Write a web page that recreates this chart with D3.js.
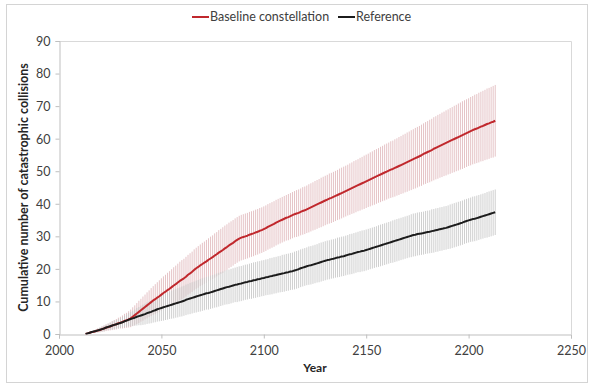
<!DOCTYPE html>
<html>
<head>
<meta charset="utf-8">
<script src="https://cdn.jsdelivr.net/npm/d3@7/dist/d3.min.js"></script>
<style>
  html, body { margin: 0; padding: 0; background: #ffffff; }
  svg { display: block; font-family: Lato, "Open Sans", sans-serif; }
</style>
</head>
<body>
<svg id="chart" width="589" height="385"></svg>
<script>
// Simulated years, one entry per year
const firstYear = 2013;
const lastYear = 2213;

// Mean cumulative catastrophic collisions per year
const baselineMean = [
  0.0, 0.2, 0.4, 0.6, 0.7, 0.9, 1.1,
  1.2, 1.5, 1.7, 1.9, 2.1, 2.3, 2.6, 2.8, 3.0, 3.3,
  3.5, 3.7, 4.0, 4.2, 4.5, 4.8, 5.3, 5.8, 6.3, 6.8,
  7.3, 7.8, 8.3, 8.8, 9.3, 9.8, 10.3, 10.7, 11.2, 11.6,
  12.1, 12.6, 13.0, 13.5, 13.9, 14.4, 14.9, 15.3, 15.8, 16.3,
  16.7, 17.1, 17.6, 18.2, 18.6, 19.1, 19.7, 20.2, 20.6, 21.1,
  21.5, 21.9, 22.3, 22.8, 23.2, 23.6, 24.1, 24.5, 25.0, 25.4,
  25.8, 26.3, 26.7, 27.2, 27.6, 28.0, 28.5, 28.9, 29.3, 29.6,
  29.8, 30.0, 30.2, 30.5, 30.7, 30.9, 31.2, 31.4, 31.7, 31.9,
  32.2, 32.5, 32.9, 33.2, 33.5, 33.8, 34.2, 34.5, 34.8, 35.1,
  35.4, 35.7, 35.9, 36.2, 36.5, 36.8, 37.0, 37.2, 37.5, 37.8,
  38.0, 38.3, 38.6, 38.9, 39.2, 39.5, 39.8, 40.1, 40.4, 40.7,
  41.0, 41.3, 41.6, 41.8, 42.1, 42.4, 42.7, 43.0, 43.3, 43.6,
  43.9, 44.2, 44.5, 44.8, 45.1, 45.4, 45.7, 46.0, 46.3, 46.6,
  46.9, 47.2, 47.5, 47.8, 48.1, 48.4, 48.7, 49.0, 49.3, 49.6,
  49.9, 50.2, 50.5, 50.7, 51.0, 51.3, 51.6, 51.9, 52.2, 52.5,
  52.8, 53.1, 53.4, 53.7, 54.0, 54.3, 54.6, 54.9, 55.3, 55.6,
  55.9, 56.2, 56.5, 56.9, 57.2, 57.5, 57.8, 58.1, 58.4, 58.7,
  59.0, 59.3, 59.6, 59.9, 60.2, 60.5, 60.8, 61.1, 61.4, 61.7,
  62.0, 62.3, 62.6, 62.9, 63.1, 63.4, 63.7, 63.9, 64.2, 64.5,
  64.7, 65.0, 65.2, 65.5
];

const referenceMean = [
  0.0, 0.2, 0.4, 0.6, 0.8, 0.9, 1.1,
  1.3, 1.5, 1.7, 2.0, 2.2, 2.4, 2.6, 2.8, 3.0, 3.2,
  3.4, 3.6, 3.9, 4.1, 4.4, 4.6, 4.8, 5.0, 5.3, 5.5,
  5.7, 5.9, 6.1, 6.4, 6.6, 6.8, 7.1, 7.3, 7.6, 7.8,
  8.0, 8.2, 8.4, 8.6, 8.8, 9.0, 9.2, 9.4, 9.6, 9.8,
  10.0, 10.2, 10.5, 10.7, 10.9, 11.1, 11.3, 11.5, 11.7, 11.9,
  12.1, 12.3, 12.5, 12.6, 12.8, 13.0, 13.2, 13.4, 13.6, 13.8,
  14.0, 14.2, 14.4, 14.5, 14.7, 14.9, 15.1, 15.2, 15.4, 15.5,
  15.7, 15.9, 16.0, 16.2, 16.3, 16.5, 16.6, 16.8, 16.9, 17.1,
  17.2, 17.4, 17.5, 17.7, 17.8, 18.0, 18.1, 18.3, 18.4, 18.6,
  18.7, 18.9, 19.0, 19.2, 19.3, 19.5, 19.7, 19.9, 20.2, 20.4,
  20.6, 20.8, 21.0, 21.1, 21.3, 21.5, 21.7, 21.9, 22.1, 22.3,
  22.5, 22.7, 22.8, 23.0, 23.1, 23.3, 23.5, 23.6, 23.8, 23.9,
  24.1, 24.3, 24.5, 24.6, 24.8, 25.0, 25.2, 25.3, 25.5, 25.6,
  25.8, 26.0, 26.2, 26.4, 26.6, 26.8, 27.0, 27.2, 27.4, 27.6,
  27.8, 28.0, 28.2, 28.4, 28.6, 28.8, 29.0, 29.2, 29.4, 29.6,
  29.8, 30.0, 30.2, 30.4, 30.5, 30.7, 30.8, 30.9, 31.0, 31.2,
  31.3, 31.4, 31.6, 31.7, 31.9, 32.0, 32.2, 32.3, 32.5, 32.6,
  32.8, 33.0, 33.2, 33.4, 33.6, 33.8, 34.0, 34.2, 34.5, 34.7,
  34.9, 35.1, 35.3, 35.4, 35.6, 35.8, 36.0, 36.2, 36.4, 36.6,
  36.8, 37.0, 37.2, 37.4
];

// Half-width of the spread (error bar) per year
const baselineSpread = [
  0.0, 0.1, 0.2, 0.3, 0.4, 0.5, 0.6,
  0.7, 0.8, 0.9, 1.0, 1.1, 1.2, 1.4, 1.5, 1.6, 1.7,
  1.8, 2.0, 2.2, 2.3, 2.5, 2.7, 2.9, 3.0, 3.2, 3.4,
  3.5, 3.7, 3.8, 4.0, 4.1, 4.3, 4.4, 4.6, 4.7, 4.9,
  5.0, 5.1, 5.2, 5.3, 5.4, 5.5, 5.6, 5.7, 5.8, 5.9,
  6.0, 6.0, 6.1, 6.1, 6.2, 6.2, 6.3, 6.3, 6.4, 6.4,
  6.5, 6.5, 6.6, 6.6, 6.7, 6.7, 6.8, 6.8, 6.9, 6.9,
  7.0, 7.0, 7.0, 7.0, 7.0, 7.0, 7.0, 7.0, 7.0, 7.0,
  7.0, 7.0, 7.0, 7.0, 7.0, 7.0, 7.0, 7.0, 7.0, 7.0,
  7.0, 7.0, 7.0, 7.0, 7.0, 7.0, 7.0, 7.0, 7.0, 7.0,
  7.0, 7.0, 7.1, 7.1, 7.1, 7.1, 7.2, 7.2, 7.2, 7.3,
  7.3, 7.3, 7.4, 7.4, 7.4, 7.5, 7.5, 7.5, 7.6, 7.6,
  7.6, 7.6, 7.7, 7.7, 7.7, 7.7, 7.7, 7.8, 7.8, 7.8,
  7.8, 7.8, 7.9, 7.9, 8.0, 8.0, 8.0, 8.1, 8.1, 8.2,
  8.2, 8.2, 8.3, 8.3, 8.4, 8.4, 8.4, 8.5, 8.5, 8.6,
  8.6, 8.6, 8.7, 8.7, 8.8, 8.8, 8.9, 8.9, 9.0, 9.0,
  9.1, 9.1, 9.2, 9.2, 9.3, 9.3, 9.3, 9.4, 9.4, 9.5,
  9.5, 9.6, 9.6, 9.7, 9.7, 9.8, 9.8, 9.9, 9.9, 10.0,
  10.0, 10.1, 10.1, 10.2, 10.2, 10.3, 10.3, 10.4, 10.4, 10.4,
  10.4, 10.5, 10.5, 10.6, 10.6, 10.7, 10.7, 10.8, 10.8, 10.9,
  10.9, 10.9, 11.0, 11.0
];

const referenceSpread = [
  0.0, 0.1, 0.2, 0.3, 0.4, 0.5, 0.6,
  0.7, 0.8, 0.9, 0.9, 1.0, 1.1, 1.2, 1.3, 1.3, 1.4,
  1.5, 1.6, 1.7, 1.9, 2.0, 2.2, 2.3, 2.5, 2.7, 2.8,
  3.0, 3.1, 3.2, 3.3, 3.4, 3.5, 3.6, 3.7, 3.8, 3.9,
  4.0, 4.1, 4.1, 4.2, 4.2, 4.3, 4.4, 4.4, 4.5, 4.5,
  4.6, 4.6, 4.7, 4.7, 4.8, 4.8, 4.8, 4.9, 4.9, 5.0,
  5.0, 5.0, 5.0, 5.1, 5.1, 5.1, 5.1, 5.2, 5.2, 5.2,
  5.2, 5.2, 5.3, 5.3, 5.3, 5.3, 5.3, 5.4, 5.4, 5.4,
  5.4, 5.4, 5.4, 5.4, 5.5, 5.5, 5.5, 5.5, 5.5, 5.5,
  5.5, 5.5, 5.5, 5.6, 5.6, 5.6, 5.6, 5.6, 5.6, 5.7,
  5.7, 5.7, 5.7, 5.7, 5.7, 5.8, 5.8, 5.8, 5.8, 5.8,
  5.8, 5.8, 5.9, 5.9, 5.9, 5.9, 5.9, 6.0, 6.0, 6.0,
  6.0, 6.0, 6.0, 6.0, 6.0, 6.0, 6.1, 6.1, 6.1, 6.1,
  6.1, 6.1, 6.2, 6.2, 6.2, 6.2, 6.2, 6.3, 6.3, 6.3,
  6.3, 6.3, 6.3, 6.3, 6.3, 6.3, 6.4, 6.4, 6.4, 6.4,
  6.4, 6.4, 6.4, 6.5, 6.5, 6.5, 6.5, 6.5, 6.5, 6.5,
  6.5, 6.5, 6.6, 6.6, 6.6, 6.6, 6.6, 6.6, 6.6, 6.6,
  6.6, 6.6, 6.7, 6.7, 6.7, 6.7, 6.7, 6.7, 6.7, 6.7,
  6.7, 6.8, 6.8, 6.8, 6.8, 6.8, 6.8, 6.8, 6.8, 6.8,
  6.8, 6.8, 6.9, 6.9, 6.9, 6.9, 6.9, 6.9, 6.9, 7.0,
  7.0, 7.0, 7.0, 7.0
];

const seriesNames = ["Baseline constellation", "Reference"];
const xTicks = [2000, 2050, 2100, 2150, 2200, 2250];
const yTicks = [0, 10, 20, 30, 40, 50, 60, 70, 80, 90];

const years = d3.range(firstYear, lastYear + 1);
const series = [
  { name: seriesNames[0], mean: baselineMean, spread: baselineSpread,
    line: "#c0282d", bar: "#e2bcc0" },
  { name: seriesNames[1], mean: referenceMean, spread: referenceSpread,
    line: "#1c1c1c", bar: "#cacaca" }
];

const svg = d3.select("#chart");
const plot = { left: 59, right: 571, top: 41, bottom: 334 };

const x = d3.scaleLinear().domain([2000, 2250]).range([plot.left, plot.right]);
const y = d3.scaleLinear().domain([0, 90]).range([plot.bottom, plot.top]);

// Outer chart frame
svg.append("rect")
  .attr("x", 6.5).attr("y", 4.5)
  .attr("width", 581).attr("height", 378)
  .attr("fill", "#ffffff")
  .attr("stroke", "#d4d4d4").attr("stroke-width", 1);

// Plot area border (top and right)
svg.append("path")
  .attr("d", `M${plot.left},${plot.top + 0.5}H${plot.right + 0.5}V${plot.bottom}`)
  .attr("fill", "none")
  .attr("stroke", "#d9d9d9");

// Error bars, one vertical segment per year
series.forEach(s => {
  svg.append("g")
    .selectAll("line")
    .data(years.map((yr, i) => ({ yr, m: s.mean[i], e: s.spread[i] })))
    .join("line")
    .attr("x1", d => x(d.yr))
    .attr("x2", d => x(d.yr))
    .attr("y1", d => y(d.m - d.e))
    .attr("y2", d => y(d.m + d.e))
    .attr("stroke", s.bar)
    .attr("stroke-width", 0.9);
});

// Mean lines
const line = d3.line()
  .x((d, i) => x(years[i]))
  .y(d => y(d));

series.forEach(s => {
  svg.append("path")
    .datum(s.mean)
    .attr("d", line)
    .attr("fill", "none")
    .attr("stroke", s.line)
    .attr("stroke-width", 2)
    .attr("stroke-linejoin", "round");
});

// Axes
const xAxis = svg.append("g")
  .attr("transform", `translate(0,${plot.bottom + 0.5})`)
  .call(d3.axisBottom(x).tickValues(xTicks).tickFormat(d3.format("d")).tickSizeOuter(0).tickSize(4));

const yAxis = svg.append("g")
  .attr("transform", `translate(${plot.left + 0.5},0)`)
  .call(d3.axisLeft(y).tickValues(yTicks).tickSizeOuter(0).tickSize(4));

[xAxis, yAxis].forEach(g => {
  g.select(".domain").attr("stroke", "#bfbfbf");
  g.selectAll(".tick line").attr("stroke", "#bfbfbf");
  g.selectAll(".tick text")
    .attr("fill", "#404040")
    .style("font-family", "Lato, 'Open Sans', sans-serif")
    .style("font-size", "12.5px");
});
xAxis.selectAll(".tick text").attr("dy", "0").attr("y", 20);
yAxis.selectAll(".tick text").attr("x", -9).attr("dy", "0.35em");

// Axis titles
svg.append("text")
  .attr("x", (plot.left + plot.right) / 2)
  .attr("y", 372)
  .attr("text-anchor", "middle")
  .attr("fill", "#262626")
  .style("font-size", "12px")
  .style("font-weight", "bold")
  .text("Year");

svg.append("text")
  .attr("transform", `translate(28,${(plot.top + plot.bottom) / 2}) rotate(-90)`)
  .attr("text-anchor", "middle")
  .attr("fill", "#262626")
  .style("font-size", "12.5px")
  .style("font-weight", "bold")
  .text("Cumulative number of catastrophic collisions");

// Legend
const legendItems = [
  { name: seriesNames[0], color: series[0].line, x: 192 },
  { name: seriesNames[1], color: series[1].line, x: 338 }
];
const legend = svg.append("g").attr("transform", "translate(0,17)");
legendItems.forEach(item => {
  legend.append("line")
    .attr("x1", item.x).attr("x2", item.x + 17)
    .attr("y1", 0).attr("y2", 0)
    .attr("stroke", item.color).attr("stroke-width", 2);
  legend.append("text")
    .attr("x", item.x + 18)
    .attr("y", 0)
    .attr("dy", "0.35em")
    .attr("fill", "#404040")
    .style("font-size", "12.5px")
    .text(item.name);
});
</script>
</body>
</html>
